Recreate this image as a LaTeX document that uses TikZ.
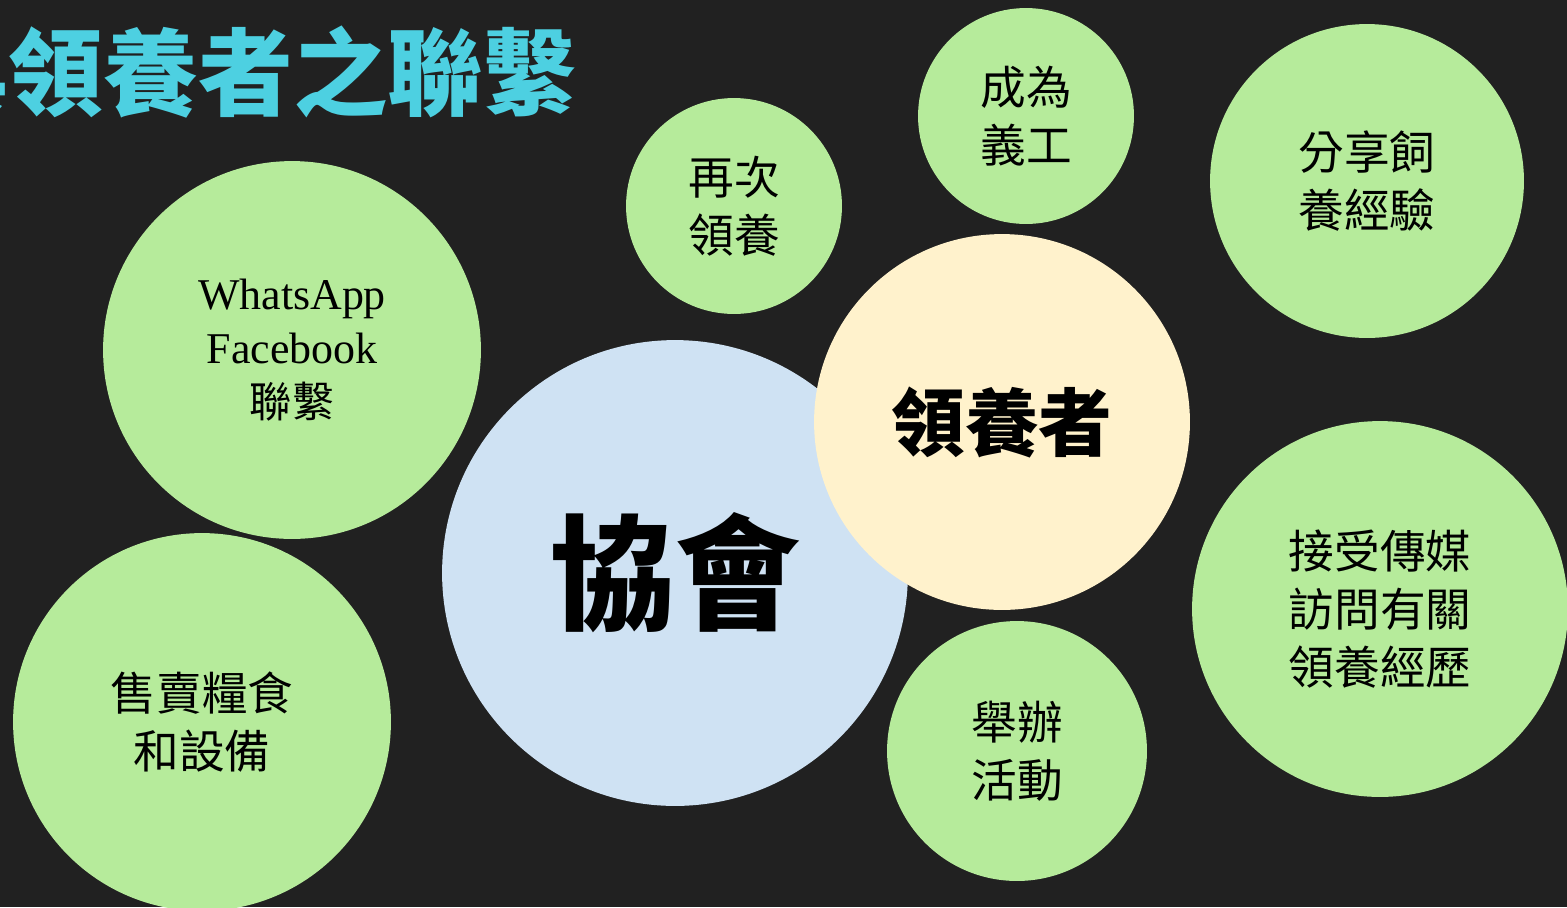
\documentclass[tikz,border=0pt]{standalone}
\usepackage{fontspec}
\setmainfont{Liberation Serif}
\newfontfamily\cjk{Noto Sans CJK TC}
\usepackage{tikz}
\definecolor{bgdark}{RGB}{33,33,33}
\definecolor{bubblegreen}{RGB}{182,235,155}
\definecolor{hubblue}{RGB}{207,226,243}
\definecolor{hubyellow}{RGB}{255,242,204}
\definecolor{titlecyan}{RGB}{77,208,225}
\tikzset{
  bubble/.style={
    circle, fill=bubblegreen, inner sep=0pt, align=center,
    minimum size=#1*0.04cm,
    font=\cjk\fontsize{26}{33}\selectfont
  },
  bubble/.default={108},
  hub/.style={
    circle, inner sep=0pt, align=center,
    minimum size=#1*0.04cm
  },
  title/.style={
    text=titlecyan, inner sep=0pt, anchor=east,
    font=\cjk\bfseries\fontsize{54}{60}\selectfont
  }
}

\begin{document}
\begin{tikzpicture}[x=0.02cm, y=-0.02cm]
    \fill[bgdark] (0,0) rectangle (1567,907);
    \useasboundingbox (0,0) rectangle (1567,907);
    \clip (0,0) rectangle (1567,907);
    \node[title] (title) at (578,72) {與領養者之聯繫};
    % the two hubs
    \node[hub=233, fill=hubblue, font=\cjk\bfseries\fontsize{71}{80}\selectfont] (assoc) at (675,573) {協會};
    \node[hub=188, fill=hubyellow, font=\cjk\bfseries\fontsize{42}{50}\selectfont] (adopter) at (1002,422) {領養者};
    % bubbles round them
    \node[bubble=108] (again) at (734,206) {再次\\領養};
    \node[bubble=108] (volunteer) at (1026,116) {成為\\義工};
    \node[bubble=157] (share) at (1367,181) {分享飼\\養經驗};
    \node[bubble=188] (media) at (1380,609) {接受傳媒\\訪問有關\\領養經歷};
    \node[bubble=130] (events) at (1017,751) {舉辦\\活動};
    \node[bubble=189] (sell) at (202,722) {售賣糧食\\和設備};
    \node[bubble=189, font=\fontsize{25}{30.6}\selectfont] (social) at (292,350)
      {WhatsApp\\Facebook\\{\cjk\fontsize{24}{30.6}\selectfont 聯繫}};
\end{tikzpicture}
\end{document}
